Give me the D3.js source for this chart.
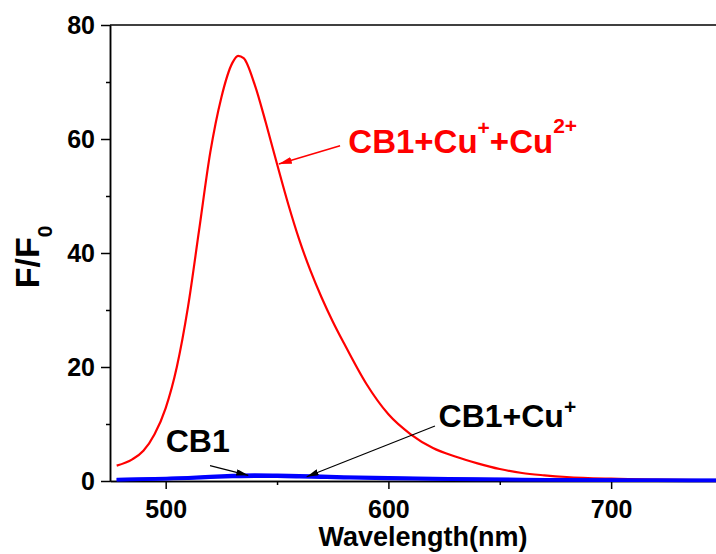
<!DOCTYPE html>
<html>
<head>
<meta charset="utf-8">
<script src="https://cdn.jsdelivr.net/npm/d3@7"></script>
<style>
  html, body { margin: 0; padding: 0; background: #fff; }
  svg { display: block; font-family: "Liberation Sans", Arial, sans-serif; font-weight: bold; }
</style>
</head>
<body>
<svg id="chart" width="716" height="554"></svg>
<script>
// Emission spectra, F/F0 versus wavelength (nm)
const redWavelength = [478, 485, 490, 495, 500, 505, 510, 515, 520, 525, 530, 532.5, 535,
  540, 545, 550, 555, 560, 565, 570, 575, 580, 590, 600, 610, 620, 630, 640, 650, 660,
  670, 680, 700, 720, 750];
const redValues = [2.7, 3.8, 5.3, 8.2, 12.8, 20.0, 30.5, 44.0, 57.6, 67.3, 73.4, 74.6, 74.2,
  69.5, 62.8, 55.6, 48.6, 42.3, 36.9, 32.2, 28.0, 24.2, 17.1, 11.7, 8.2, 5.8, 4.3, 3.1, 2.1, 1.4,
  1.0, 0.7, 0.4, 0.25, 0.15];

const blueWavelength = [478, 490, 500, 510, 520, 530, 540, 550, 560, 570, 580, 600, 620, 640, 660, 680, 700, 720, 750];
const cb1Values = [0.2, 0.3, 0.4, 0.5, 0.65, 0.78, 0.85, 0.82, 0.75, 0.66, 0.58, 0.45, 0.36, 0.28, 0.22, 0.18, 0.14, 0.11, 0.09];
const cb1CuValues = [0.25, 0.35, 0.45, 0.58, 0.78, 0.95, 1.05, 1.0, 0.92, 0.82, 0.72, 0.56, 0.44, 0.34, 0.27, 0.21, 0.17, 0.13, 0.11];

const xMajorTicks = [500, 600, 700];
const xMinorTicks = [550, 650, 750];
const yMajorTicks = [0, 20, 40, 60, 80];
const yMinorTicks = [10, 30, 50, 70];

// Annotation anchors in data units: [wavelength, F/F0]
const redLabelAt = [582.0, 57.6];
const redArrow = [[578.3, 58.8], [550.8, 55.6]];
const cb1LabelAt = [500.0, 5.15];
const cb1Arrow = [[519.9, 2.7], [537.1, 1.0]];
const cb1CuLabelAt = [622.5, 9.4];
const cb1CuArrow = [[620.9, 9.65], [563.3, 0.75]];

const svg = d3.select("#chart");
const x = d3.scaleLinear().domain([475, 750]).range([110, 722.5]);
const y = d3.scaleLinear().domain([0, 80]).range([481, 25]);

const defs = svg.append("defs");
function arrowMarker(id, color, len, half) {
  defs.append("marker")
    .attr("id", id)
    .attr("viewBox", `0 ${-half} ${len} ${2 * half}`)
    .attr("refX", len).attr("refY", 0)
    .attr("markerUnits", "userSpaceOnUse")
    .attr("markerWidth", len).attr("markerHeight", 2 * half)
    .attr("orient", "auto")
    .append("path")
    .attr("d", `M0,${-half}L${len},0L0,${half}Z`)
    .attr("fill", color);
}
arrowMarker("arrRed", "#ff0000", 13, 3.5);
arrowMarker("arrBlack", "#000", 12, 3.2);

// Axes
const axisStyle = g => {
  g.select(".domain").attr("stroke", "#000").attr("stroke-width", 1.5);
  g.selectAll(".tick line").attr("stroke", "#000").attr("stroke-width", 1.5);
  g.selectAll(".tick text").attr("fill", "#000").style("font-size", "25px").style("font-weight", "bold")
    .style("font-family", '"Liberation Sans", Arial, sans-serif');
};

svg.append("g").attr("transform", `translate(0,${y(0)})`)
  .call(d3.axisBottom(x).tickValues(xMinorTicks).tickSize(4).tickFormat("").tickSizeOuter(0))
  .call(axisStyle);
svg.append("g").attr("transform", `translate(0,${y(0)})`)
  .call(d3.axisBottom(x).tickValues(xMajorTicks).tickSize(8).tickPadding(11).tickFormat(d3.format("d")).tickSizeOuter(0))
  .call(axisStyle);

svg.append("g").attr("transform", `translate(${x(475)},0)`)
  .call(d3.axisLeft(y).tickValues(yMinorTicks).tickSize(4).tickFormat("").tickSizeOuter(0))
  .call(axisStyle);
svg.append("g").attr("transform", `translate(${x(475)},0)`)
  .call(d3.axisLeft(y).tickValues(yMajorTicks).tickSize(9).tickPadding(6).tickFormat(d3.format("d")).tickSizeOuter(0))
  .call(axisStyle);

// Top frame
svg.append("line")
  .attr("x1", x(475)).attr("x2", x(750)).attr("y1", y(80)).attr("y2", y(80))
  .attr("stroke", "#000").attr("stroke-width", 1.5);

// Axis titles
svg.append("text")
  .attr("x", 423).attr("y", 546)
  .attr("text-anchor", "middle")
  .style("font-size", "27px")
  .text("Wavelength(nm)");

const yTitle = svg.append("text")
  .attr("transform", `translate(39,${(y(0) + y(80)) / 2 + 4}) rotate(-90)`)
  .attr("text-anchor", "middle")
  .style("font-size", "34px");
yTitle.append("tspan").text("F/F");
yTitle.append("tspan").attr("dy", 13).style("font-size", "21px").text("0");

// Curves
const line = d3.line().x(d => x(d[0])).y(d => y(d[1])).curve(d3.curveMonotoneX);

svg.append("path")
  .datum(redWavelength.map((w, i) => [w, redValues[i]]))
  .attr("d", line)
  .attr("fill", "none").attr("stroke", "#ff0000").attr("stroke-width", 2.2);

svg.append("path")
  .datum(blueWavelength.map((w, i) => [w, cb1Values[i]]))
  .attr("d", line)
  .attr("fill", "none").attr("stroke", "#0000ff").attr("stroke-width", 3.5);

svg.append("path")
  .datum(blueWavelength.map((w, i) => [w, cb1CuValues[i]]))
  .attr("d", line)
  .attr("fill", "none").attr("stroke", "#0000ff").attr("stroke-width", 3.5);

// Annotations
function arrow(pts, color, marker, width) {
  svg.append("line")
    .attr("x1", x(pts[0][0])).attr("y1", y(pts[0][1]))
    .attr("x2", x(pts[1][0])).attr("y2", y(pts[1][1]))
    .attr("stroke", color).attr("stroke-width", width)
    .attr("marker-end", `url(#${marker})`);
}
arrow(redArrow, "#ff0000", "arrRed", 1.5);
arrow(cb1Arrow, "#000", "arrBlack", 1.2);
arrow(cb1CuArrow, "#000", "arrBlack", 1.2);

const redLabel = svg.append("text")
  .attr("x", x(redLabelAt[0])).attr("y", y(redLabelAt[1]))
  .attr("fill", "#ff0000").style("font-size", "33px");
redLabel.append("tspan").text("CB1+Cu");
redLabel.append("tspan").attr("dy", -18).style("font-size", "21px").text("+");
redLabel.append("tspan").attr("dy", 18).text("+Cu");
redLabel.append("tspan").attr("dy", -20).style("font-size", "21px").text("2+");

svg.append("text")
  .attr("x", x(cb1LabelAt[0])).attr("y", y(cb1LabelAt[1]))
  .attr("fill", "#000").style("font-size", "32px")
  .text("CB1");

const cuLabel = svg.append("text")
  .attr("x", x(cb1CuLabelAt[0])).attr("y", y(cb1CuLabelAt[1]))
  .attr("fill", "#000").style("font-size", "32px");
cuLabel.append("tspan").text("CB1+Cu");
cuLabel.append("tspan").attr("dy", -13).style("font-size", "21px").text("+");
</script>
</body>
</html>
